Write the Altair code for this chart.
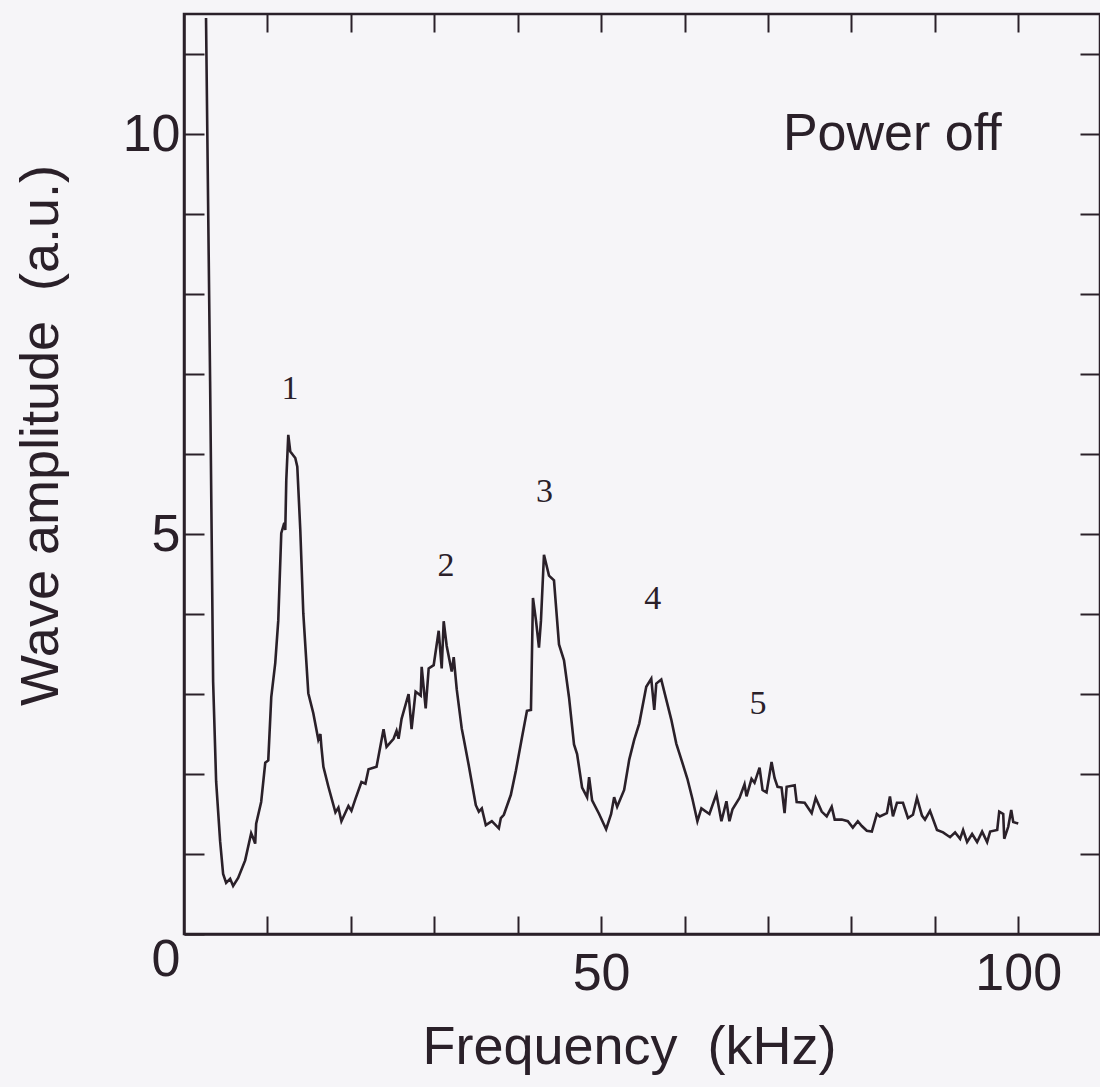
import altair as alt
import pandas as pd

# ---- data ----
freq = [2.64, 3.13, 3.49, 3.85, 4.33, 4.69, 5.05, 5.53, 5.89, 6.49, 7.33, 8.05, 8.29, 8.53, 8.65,
        9.25, 9.74, 10.10, 10.46, 10.94, 11.30, 11.66, 12.02, 12.14, 12.26, 12.50, 12.74, 13.34,
        13.58, 13.94, 14.30, 14.90, 15.50, 16.10, 16.35, 16.47, 16.71, 17.31, 18.15, 18.51, 18.87,
        19.71, 20.07, 20.55, 21.27, 21.75, 22.12, 23.08, 23.92, 24.28, 25.12, 25.48, 25.72, 26.08,
        26.92, 27.28, 27.76, 28.37, 28.49, 28.97, 29.33, 29.93, 30.53, 30.89, 31.13, 31.49, 32.09,
        32.33, 32.69, 33.29, 33.53, 34.13, 34.98, 35.34, 35.70, 36.18, 36.90, 37.74, 37.98, 38.34,
        39.18, 39.78, 40.50, 41.11, 41.59, 41.83, 42.19, 42.55, 42.79, 43.15, 43.75, 44.35, 44.95,
        45.55, 46.15, 46.75, 47.12, 47.72, 48.32, 48.56, 48.92, 49.76, 50.60, 51.20, 51.56, 51.92,
        52.76, 53.37, 53.97, 54.57, 55.41, 56.01, 56.37, 56.61, 57.21, 57.81, 58.41, 59.01, 59.62,
        60.34, 60.94, 61.54, 62.02, 62.98, 63.82, 64.42, 65.02, 65.38, 65.75, 66.59, 67.19, 67.43,
        68.03, 68.39, 68.99, 69.35, 69.83, 70.43, 70.79, 71.15, 71.63, 71.99, 72.24, 73.20, 73.44,
        74.40, 75.24, 75.72, 76.44, 77.04, 77.64, 78.00, 78.85, 79.57, 80.17, 80.77, 81.25, 81.85,
        82.45, 83.05, 83.41, 84.25, 84.62, 84.98, 85.46, 86.18, 86.78, 87.38, 87.86, 88.46, 88.82,
        89.42, 90.26, 90.99, 91.83, 92.43, 93.03, 93.39, 93.87, 94.47, 95.07, 95.67, 96.27, 96.63,
        97.48, 97.72, 98.20, 98.32, 98.80, 99.16, 99.40, 100.0]
amp = [11.45, 6.91, 3.16, 1.91, 1.16, 0.75, 0.64, 0.69, 0.60, 0.70, 0.92, 1.26, 1.20, 1.13, 1.38,
       1.65, 2.14, 2.17, 2.96, 3.39, 3.92, 5.01, 5.14, 5.05, 5.67, 6.24, 6.03, 5.95,
       5.84, 5.05, 4.01, 3.01, 2.76, 2.43, 2.50, 2.34, 2.09, 1.84, 1.52, 1.58, 1.41,
       1.60, 1.54, 1.69, 1.90, 1.88, 2.06, 2.09, 2.56, 2.34, 2.44, 2.54, 2.44, 2.69,
       3.00, 2.56, 3.03, 2.98, 3.34, 2.82, 3.32, 3.36, 3.79, 3.32, 3.91, 3.60, 3.28,
       3.46, 3.06, 2.57, 2.44, 2.11, 1.61, 1.53, 1.57, 1.36, 1.41, 1.32, 1.45, 1.49,
       1.74, 2.04, 2.45, 2.79, 2.80, 4.20, 3.92, 3.58, 3.92, 4.74, 4.48, 4.42, 3.62,
       3.42, 2.96, 2.37, 2.25, 1.83, 1.71, 1.96, 1.67, 1.50, 1.31, 1.50, 1.71, 1.59,
       1.80, 2.18, 2.43, 2.63, 3.09, 3.19, 2.80, 3.13, 3.18, 2.93, 2.68, 2.38, 2.18,
       1.94, 1.69, 1.41, 1.57, 1.50, 1.75, 1.41, 1.66, 1.41, 1.56, 1.70, 1.87, 1.72,
       1.94, 1.89, 2.08, 1.80, 1.77, 2.15, 1.95, 1.84, 1.83, 1.51, 1.84, 1.86, 1.65,
       1.64, 1.51, 1.70, 1.53, 1.47, 1.59, 1.43, 1.43, 1.41, 1.33, 1.41, 1.35, 1.29,
       1.28, 1.50, 1.47, 1.51, 1.72, 1.47, 1.64, 1.64, 1.45, 1.49, 1.70, 1.48, 1.43,
       1.54, 1.30, 1.27, 1.21, 1.27, 1.19, 1.30, 1.15, 1.25, 1.15, 1.28, 1.15, 1.28,
       1.30, 1.53, 1.50, 1.19, 1.34, 1.55, 1.40, 1.38]

peak_labels = ["1", "2", "3", "4", "5"]
peak_x = [12.7, 31.4, 43.2, 56.2, 68.8]
peak_y = [6.69, 4.47, 5.40, 4.06, 2.75]

note_text = ["Power off"]
note_x = [84.9]
note_y = [9.8]

x_ticks = [10, 20, 30, 40, 50, 60, 70, 80, 90, 100]
y_ticks = [0, 1, 2, 3, 4, 5, 6, 7, 8, 9, 10, 11]

INK = "#2a2029"
SANS = "Liberation Sans"
SERIF = "Liberation Serif"

df = pd.DataFrame({"f": freq, "a": amp})
peaks = pd.DataFrame({"t": peak_labels, "x": peak_x, "y": peak_y})
note = pd.DataFrame({"t": note_text, "x": note_x, "y": note_y})

xs = alt.Scale(domain=[0, 109.8], nice=False, zero=False)
ys = alt.Scale(domain=[0, 11.5], nice=False, zero=False)

common_axis = dict(grid=False, tickColor=INK, tickWidth=2, domainColor=INK, domainWidth=2.5,
                   labelColor=INK, titleColor=INK, labelFont=SANS, titleFont=SANS,
                   labelFontSize=52, titleFontSize=54, titleFontWeight="normal")

x_bottom = alt.Axis(orient="bottom", values=x_ticks, tickSize={"expr": "-18"},
                    labelExpr="datum.value == 50 || datum.value == 100 ? datum.label : ''",
                    labelPadding=32, labelAlign="center", title="Frequency \u00a0(kHz)",
                    titleX=445, titleY=129, titleBaseline="alphabetic", titleAlign="center",
                    **common_axis)
y_left = alt.Axis(orient="left", values=y_ticks, tickSize={"expr": "-20"},
                  labelExpr="datum.value == 0 || datum.value == 5 || datum.value == 10 ? datum.label : ''",
                  labelPadding=24, labelAlign="right",
                  labelBaseline={"condition": {"test": "datum.value == 0", "value": "top"},
                                 "value": "middle"},
                  title="Wave amplitude \u00a0(a.u.)", titleAngle=270, titleX=-127, titleY=421,
                  titleBaseline="alphabetic", titleAlign="center",
                  **common_axis)

x_top = alt.Axis(orient="top", values=x_ticks, tickSize={"expr": "-18"}, labels=False,
                 domain=False, title=None, grid=False, tickColor=INK, tickWidth=2)
y_right = alt.Axis(orient="right", values=y_ticks[1:], tickSize={"expr": "-20"}, labels=False,
                   domain=False, title=None, grid=False, tickColor=INK, tickWidth=2)

line = alt.Chart(df).mark_line(color=INK, strokeWidth=2.6, clip=True).encode(
    x=alt.X("f:Q", scale=xs, axis=x_bottom),
    y=alt.Y("a:Q", scale=ys, axis=y_left),
)

frame = alt.Chart(df).mark_line(opacity=0).encode(
    x=alt.X("f:Q", scale=xs, axis=x_top),
    y=alt.Y("a:Q", scale=ys, axis=y_right),
)

peak_text = alt.Chart(peaks).mark_text(font=SERIF, fontSize=34, color=INK,
                                       baseline="alphabetic", align="center").encode(
    x=alt.X("x:Q", scale=xs, axis=None), y=alt.Y("y:Q", scale=ys, axis=None), text="t:N")

note_mark = alt.Chart(note).mark_text(font=SANS, fontSize=52, color=INK,
                                      baseline="alphabetic", align="center").encode(
    x=alt.X("x:Q", scale=xs, axis=None), y=alt.Y("y:Q", scale=ys, axis=None), text="t:N")

chart = alt.layer(line, frame, peak_text, note_mark).resolve_axis(
    x="independent", y="independent"
).properties(
    width=916, height=920,
    padding={"left": 184, "top": 14, "right": 0, "bottom": 153},
    autosize=alt.AutoSizeParams(type="none"),
    background="#f6f5f8",
).configure_view(stroke=INK, strokeWidth=2.5)

chart.save("out.html", embed_options={"renderer": "svg", "actions": False})
